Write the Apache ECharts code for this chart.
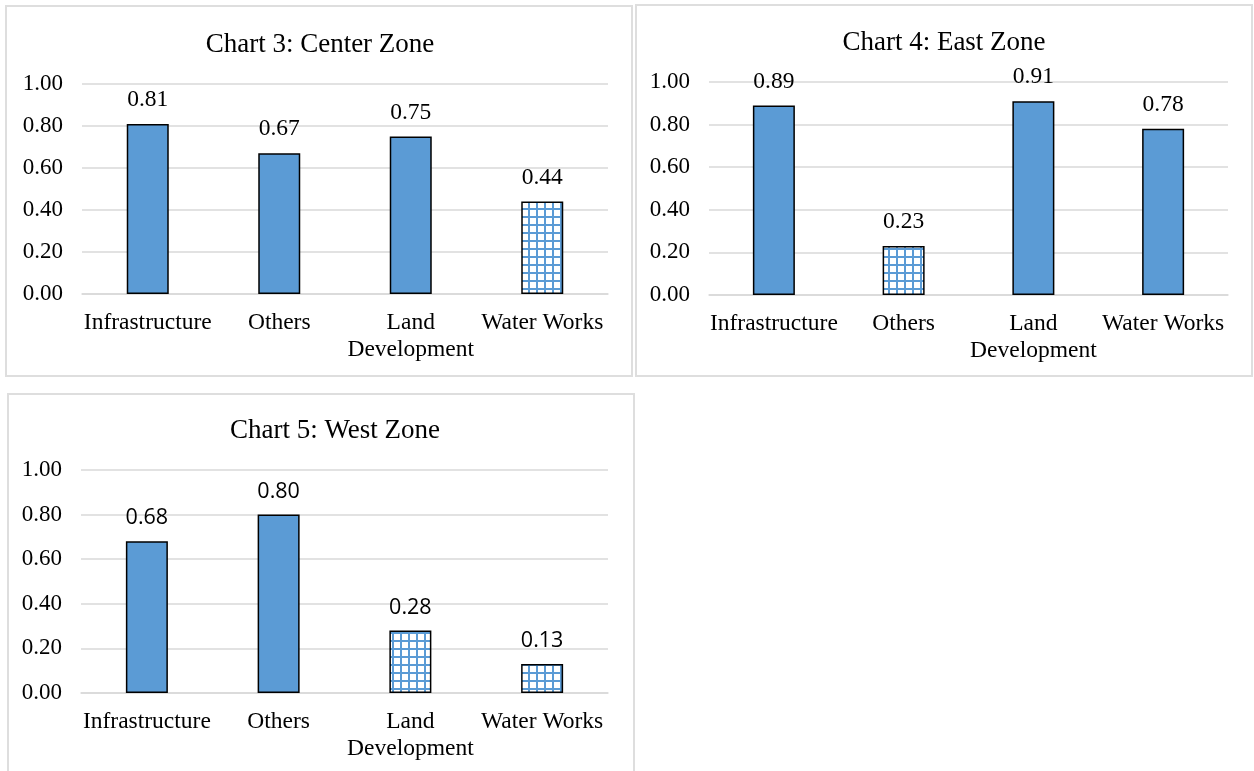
<!DOCTYPE html>
<html>
<head>
<meta charset="utf-8">
<style>
html,body{margin:0;padding:0;background:#fff;}
#chart{width:1254px;height:771px;}
</style>
<script src="https://cdn.jsdelivr.net/npm/echarts@6/dist/echarts.min.js"></script>
</head>
<body>
<div id="chart"></div>
<script>
var categories = ['Infrastructure', 'Others', 'Land Development', 'Water Works'];
var centerValues = [0.81, 0.67, 0.75, 0.44];
var eastValues = [0.89, 0.23, 0.91, 0.78];
var westValues = [0.68, 0.80, 0.28, 0.13];
var centerPatterned = [3];
var eastPatterned = [1];
var westPatterned = [2, 3];
var yTicks = [0, 0.2, 0.4, 0.6, 0.8, 1.0];

var BLUE = '#5B9BD5';
var pat = document.createElement('canvas');
pat.width = 8; pat.height = 8;
var pc = pat.getContext('2d');
pc.fillStyle = '#ffffff'; pc.fillRect(0, 0, 8, 8);
pc.fillStyle = BLUE;
pc.fillRect(0, 0, 2, 8);
pc.fillRect(0, 0, 8, 2);

var serif = '"Liberation Serif", "Times New Roman", serif';
var sans = '"Open Sans", "Liberation Sans", sans-serif';

function makeData(vals, patterned) {
  return vals.map(function (v, i) {
    return {
      value: v,
      itemStyle: {
        color: patterned.indexOf(i) >= 0 ? { image: pat, repeat: 'repeat' } : BLUE,
        borderColor: '#000', borderWidth: 1.5
      }
    };
  });
}

var grids = [
  { left: 82, right: 646, top: 84, bottom: 477, containLabel: false, outerBoundsMode: 'none' },
  { left: 709, right: 26, top: 82, bottom: 476, containLabel: false, outerBoundsMode: 'none' },
  { left: 81, right: 646, top: 470, bottom: 78, containLabel: false, outerBoundsMode: 'none' }
];

var xAxes = grids.map(function (g, i) {
  return {
    type: 'category', gridIndex: i, data: categories,
    axisLine: { show: true, lineStyle: { color: '#d9d9d9', width: 1.5 } },
    axisTick: { show: false },
    axisLabel: {
      color: '#000', fontFamily: serif, fontSize: 23.5, margin: 15, lineHeight: 27,
      interval: 0, overflow: 'none', width: 200,
      formatter: function (s) { return s === 'Land Development' ? 'Land\nDevelopment' : s; }
    }
  };
});

var yAxes = grids.map(function (g, i) {
  return {
    type: 'value', gridIndex: i, min: 0, max: 1, interval: 0.2,
    axisLine: { show: false }, axisTick: { show: false },
    splitLine: { lineStyle: { color: '#d9d9d9', width: 1.5 } },
    axisLabel: {
      color: '#000', fontFamily: serif, fontSize: 23, margin: 19,
      formatter: function (v) { return v.toFixed(2); }
    }
  };
});

function barSeries(i, vals, patterned, labelFont, labelSize) {
  return {
    type: 'bar', xAxisIndex: i, yAxisIndex: i, barWidth: 42,
    data: makeData(vals, patterned),
    label: {
      show: true, position: 'top', distance: 12, color: '#000',
      fontFamily: labelFont, fontSize: labelSize,
      formatter: function (p) { return p.value.toFixed(2); }
    }
  };
}

var option = {
  backgroundColor: '#fff',
  animation: false,
  graphic: [
    { type: 'rect', shape: { x: 6, y: 6, width: 626, height: 370 }, style: { fill: 'none', stroke: '#dedede', lineWidth: 2 } },
    { type: 'rect', shape: { x: 636, y: 5, width: 616, height: 371 }, style: { fill: 'none', stroke: '#dedede', lineWidth: 2 } },
    { type: 'rect', shape: { x: 8, y: 394, width: 626, height: 390 }, style: { fill: 'none', stroke: '#dedede', lineWidth: 2 } }
  ],
  title: [
    { text: 'Chart 3: Center Zone', left: 315, top: 26, textAlign: 'center', textStyle: { fontFamily: serif, fontSize: 27, fontWeight: 'normal', color: '#000' } },
    { text: 'Chart 4: East Zone', left: 939, top: 24, textAlign: 'center', textStyle: { fontFamily: serif, fontSize: 27, fontWeight: 'normal', color: '#000' } },
    { text: 'Chart 5: West Zone', left: 330, top: 412, textAlign: 'center', textStyle: { fontFamily: serif, fontSize: 27, fontWeight: 'normal', color: '#000' } }
  ],
  grid: grids,
  xAxis: xAxes,
  yAxis: yAxes,
  series: [
    barSeries(0, centerValues, centerPatterned, serif, 23.5),
    barSeries(1, eastValues, eastPatterned, serif, 23.5),
    barSeries(2, westValues, westPatterned, sans, 21.5)
  ]
};

var chart = echarts.init(document.getElementById('chart'), null, { renderer: 'canvas' });
chart.setOption(option);
</script>
</body>
</html>
